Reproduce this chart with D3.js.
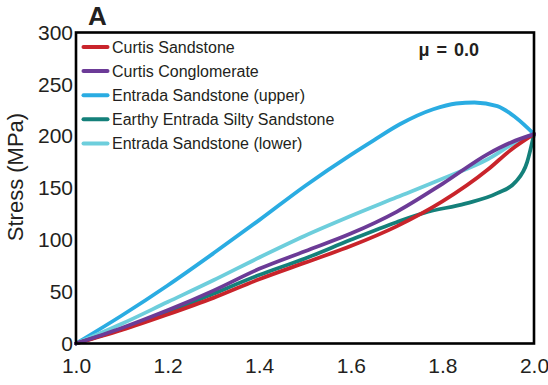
<!DOCTYPE html>
<html>
<head>
<meta charset="utf-8">
<script src="https://cdn.jsdelivr.net/npm/d3@7"></script>
<style>
  html, body { margin: 0; padding: 0; background: #fff; }
  svg { display: block; font-family: "Liberation Sans", Arial, sans-serif; }
</style>
</head>
<body>
<svg id="chart" width="548" height="385"></svg>
<script>
// Stress vs. displacement ratio curves, mu = 0.0
const xTicks = [1.0, 1.2, 1.4, 1.6, 1.8, 2.0];
const yTicks = [0, 50, 100, 150, 200, 250, 300];

const seriesNames = [
  "Curtis Sandstone",
  "Curtis Conglomerate",
  "Entrada Sandstone (upper)",
  "Earthy Entrada Silty Sandstone",
  "Entrada Sandstone (lower)"
];
const seriesColors = ["#c9242b", "#6c3b97", "#2aace2", "#14807a", "#6dcedc"];

const curtisSandstoneX = [1.0, 1.1, 1.2, 1.3, 1.4, 1.5, 1.6, 1.7, 1.8, 1.9, 1.95, 2.0];
const curtisSandstoneY = [0, 13, 28, 44, 62, 78, 94, 113, 137, 168, 187, 202];

const curtisConglomerateX = [1.0, 1.1, 1.2, 1.3, 1.4, 1.5, 1.6, 1.7, 1.8, 1.9, 1.95, 2.0];
const curtisConglomerateY = [0, 15, 32, 51, 72, 89, 106, 127, 154, 183, 194, 202];

const entradaUpperX = [1.0, 1.1, 1.2, 1.3, 1.4, 1.5, 1.6, 1.65, 1.707, 1.78, 1.83, 1.87, 1.92, 1.96, 2.0];
const entradaUpperY = [0, 27, 56, 87, 119, 152, 182, 196, 211.5, 226, 231.5, 232.5, 229, 218, 202];

const earthyEntradaX = [1.0, 1.1, 1.2, 1.3, 1.4, 1.5, 1.6, 1.7, 1.76, 1.85, 1.92, 1.96, 1.985, 2.0];
const earthyEntradaY = [0, 14, 30, 48, 66, 82, 100, 117, 126, 135, 145, 156, 175, 202];

const entradaLowerX = [1.0, 1.1, 1.2, 1.3, 1.4, 1.5, 1.6, 1.7, 1.8, 1.9, 1.96, 2.0];
const entradaLowerY = [0, 19, 40, 61, 83, 104, 123, 141, 159, 178, 194, 202];

const seriesX = [curtisSandstoneX, curtisConglomerateX, entradaUpperX, earthyEntradaX, entradaLowerX];
const seriesY = [curtisSandstoneY, curtisConglomerateY, entradaUpperY, earthyEntradaY, entradaLowerY];

const panelLabel = "A";
const frictionLabel = "\u03bc = 0.0";
const yTitle = "Stress (MPa)";

// plot frame edges
const plotLeft = 76, plotRight = 534, plotTop = 32.5, plotBottom = 343.5;
const textColor = "#231f20";

const svg = d3.select("#chart");

const x = d3.scaleLinear().domain([1.0, 2.0]).range([plotLeft, plotRight]);
const y = d3.scaleLinear().domain([0, 300]).range([plotBottom, plotTop]);

// y axis labels
const yAxis = svg.append("g")
  .attr("transform", `translate(${plotLeft - 3},0)`)
  .call(d3.axisLeft(y).tickValues(yTicks).tickSize(0).tickPadding(0).tickFormat(d3.format("d")));
yAxis.select(".domain").remove();
yAxis.selectAll("text")
  .attr("font-size", 21).attr("fill", textColor)
  .attr("font-family", "Liberation Sans, Arial, sans-serif");

// x axis labels
const xAxis = svg.append("g")
  .attr("transform", `translate(0,${plotBottom})`)
  .call(d3.axisBottom(x).tickValues(xTicks).tickSize(0).tickPadding(0).tickFormat(d3.format(".1f")));
xAxis.select(".domain").remove();
xAxis.selectAll("text")
  .attr("dy", null).attr("y", 29.5)
  .attr("font-size", 21).attr("fill", textColor)
  .attr("font-family", "Liberation Sans, Arial, sans-serif");

// y title
svg.append("text")
  .attr("transform", `translate(23,177) rotate(-90)`)
  .attr("text-anchor", "middle")
  .attr("font-size", 22).attr("fill", textColor)
  .text(yTitle);

// curves
const line = d3.line()
  .x(d => x(d[0])).y(d => y(d[1]))
  .curve(d3.curveMonotoneX);

const drawOrder = [2, 4, 3, 0, 1];
svg.append("g").selectAll("path")
  .data(drawOrder)
  .join("path")
  .attr("d", i => line(d3.zip(seriesX[i], seriesY[i])))
  .attr("fill", "none")
  .attr("stroke", i => seriesColors[i])
  .attr("stroke-width", 3.8)
  .attr("stroke-linejoin", "round")
  .attr("stroke-linecap", "round");

// frame
svg.append("rect")
  .attr("x", plotLeft).attr("y", plotTop)
  .attr("width", plotRight - plotLeft).attr("height", plotBottom - plotTop)
  .attr("fill", "none").attr("stroke", "#000").attr("stroke-width", 2.6);

// legend
const legend = svg.append("g");
const legendRowY = i => 47 + i * 24.1;
legend.selectAll("line")
  .data(seriesNames)
  .join("line")
  .attr("x1", 83.5).attr("x2", 107.5)
  .attr("y1", (d, i) => legendRowY(i)).attr("y2", (d, i) => legendRowY(i))
  .attr("stroke", (d, i) => seriesColors[i])
  .attr("stroke-width", 4)
  .attr("stroke-linecap", "round");
legend.selectAll("text")
  .data(seriesNames)
  .join("text")
  .attr("x", 112)
  .attr("y", (d, i) => legendRowY(i) + 5.8)
  .attr("font-size", 16).attr("fill", textColor)
  .text(d => d);

// panel label and friction coefficient
svg.append("text")
  .attr("x", 88).attr("y", 25)
  .attr("font-size", 26).attr("font-weight", "bold").attr("fill", textColor)
  .text(panelLabel);

svg.append("text")
  .attr("x", 479).attr("y", 56)
  .attr("text-anchor", "end")
  .attr("font-size", 18).attr("font-weight", "bold").attr("fill", textColor)
  .attr("word-spacing", 2)
  .text(frictionLabel);
</script>
</body>
</html>
